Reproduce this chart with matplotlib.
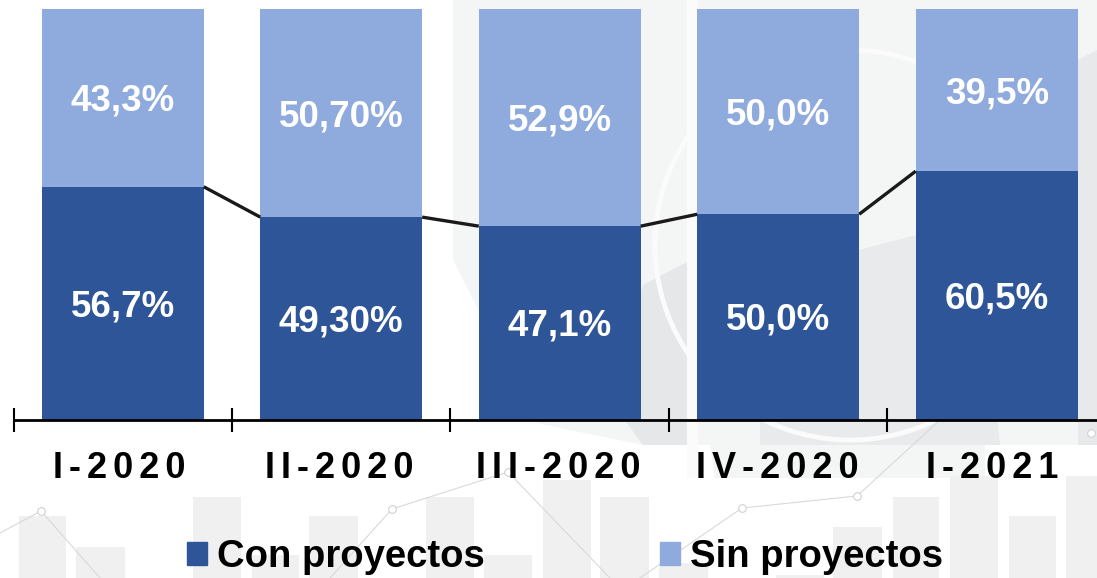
import numpy as np
import matplotlib
matplotlib.use("Agg")
import matplotlib.pyplot as plt
from matplotlib.patches import Circle, Patch, Polygon

plt.rcParams["font.family"] = ["Liberation Sans", "DejaVu Sans"]

periods = ["I-2020", "II-2020", "III-2020", "IV-2020", "I-2021"]
con_proyectos = [56.7, 49.3, 47.1, 50.0, 60.5]
sin_proyectos = [43.3, 50.7, 52.9, 50.0, 39.5]
con_labels = ["56,7%", "49,30%", "47,1%", "50,0%", "60,5%"]
sin_labels = ["43,3%", "50,70%", "52,9%", "50,0%", "39,5%"]

# faint picture behind the chart, in pixels of the image
bg_bar_left = [19, 76, 193, 252, 309, 426, 484, 543, 600, 659, 776, 833, 893, 950, 1009, 1066]
bg_bar_right = [66, 125, 241, 299, 358, 474, 532, 591, 649, 708, 824, 882, 939, 998, 1056, 1097]
bg_bar_top = [516, 547, 497, 555, 516, 497, 555, 480, 497, 563, 575, 527, 497, 476, 516, 476]
bg_line_x = [0, 41, 100, None, 330, 392, 508, 610, None, 640, 742, 857, 940]
bg_line_y = [533, 511, 578, None, 578, 509, 472, 578, None, 578, 508, 496, 420]
bg_dots_x = [41, 392, 508, 742, 857, 1091]
bg_dots_y = [511, 509, 472, 508, 496, 433]

fig = plt.figure(figsize=(10.97, 5.78), dpi=100)

bg = fig.add_axes([0, 0, 1, 1])
bg.set_xlim(0, 1097)
bg.set_ylim(578, 0)
bg.axis("off")
bg.add_patch(Polygon([(453, 0), (1097, 0), (1097, 445), (985, 445), (985, 478), (715, 478), (710, 445),
                      (643, 445), (536, 423), (453, 260)], color="#f4f5f5", lw=0))
bg.add_patch(Polygon([(643, 285), (687, 262), (687, 445), (643, 445), (610, 400)], color="#e6e7e9", lw=0))
bg.add_patch(Polygon([(687, 0), (698, 0), (698, 478), (687, 478)], color="#fbfbfb", lw=0))
bg.add_patch(Polygon([(859, 250), (916, 235), (985, 300), (1000, 445), (760, 445), (760, 330)], color="#e9eaec", lw=0))
bg.add_patch(Polygon([(1078, 60), (1097, 50), (1097, 445), (1078, 445)], color="#e8e9ea", lw=0))
bg.add_patch(Circle((850, 245), 195, fill=False, ec="#fbfbfb", lw=3.5))
for l, r, t in zip(bg_bar_left, bg_bar_right, bg_bar_top):
    bg.fill_between([l, r], t, 578, color="#f0f0f0", lw=0)
bg.plot(bg_line_x, bg_line_y, color="#d9d9d9", lw=0.8)
bg.plot(bg_dots_x, bg_dots_y, "o", ms=5.5, mfc="white", mec="#d0d0d0", mew=0.8)

ax = fig.add_axes([13.5 / 1097, (578 - 419.5) / 578, 1083.5 / 1097, 410.5 / 578])
ax.patch.set_alpha(0)
x = np.arange(len(periods))
width = 0.741
dark = "#2E5597"
light = "#8FAADC"

b1 = ax.bar(x, con_proyectos, width, color=dark, label="Con proyectos")
b2 = ax.bar(x, sin_proyectos, width, bottom=con_proyectos, color=light, label="Sin proyectos")
for i in range(len(x)):
    ax.annotate(con_labels[i], (x[i], con_proyectos[i] / 2), xytext=(0, -2.5), textcoords="offset points",
                ha="center", va="center", color="white", fontsize=26.5, fontweight="bold")
    ax.annotate(sin_labels[i], (x[i], con_proyectos[i] + sin_proyectos[i] / 2), xytext=(0, -2.5),
                textcoords="offset points", ha="center", va="center", color="white", fontsize=26.5, fontweight="bold")

for i in range(len(x) - 1):
    ax.plot([x[i] + width / 2, x[i + 1] - width / 2], [con_proyectos[i], con_proyectos[i + 1]],
            color="#1a1a1a", lw=2.4, solid_capstyle="butt")

for s in ["top", "left", "right"]:
    ax.spines[s].set_visible(False)
ax.spines["bottom"].set_linewidth(2)
ax.set_yticks([])
ax.set_xticks(x - 0.5)
ax.set_xticklabels([])
ax.tick_params(axis="x", which="major", direction="inout", length=17, width=1.5, color="black")
ax.set_xlim(-0.5, 4.459)
ax.set_ylim(0, 100)

# period labels sit a bit left of the bar centres, spaced out with hair spaces
for i, shift in enumerate([-2.2, -1.4, -1.4, -0.7, -2.9]):
    ax.annotate("\u200a\u200a".join(periods[i]), (x[i], 0), xytext=(shift, -35), textcoords="offset points",
                ha="center", va="center", fontsize=26, fontweight="bold", annotation_clip=False)

fig.legend(handles=[Patch(color=dark, label="Con proyectos"), Patch(color=light, label="Sin proyectos")],
           loc="center", bbox_to_anchor=(565 / 1097, 1 - 557 / 578), ncol=2, frameon=False,
           prop={"size": 27.5, "weight": "bold"}, handlelength=0.53, handleheight=0.53,
           handletextpad=0.25, columnspacing=4.6, borderpad=0)

fig.savefig("out.png", dpi=100)
